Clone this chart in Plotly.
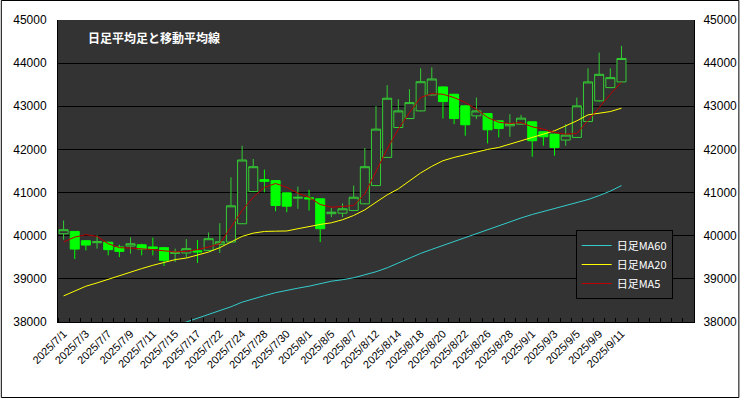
import plotly.graph_objects as go

dates = ["2025/7/1", "2025/7/2", "2025/7/3", "2025/7/4", "2025/7/7", "2025/7/8", "2025/7/9",
         "2025/7/10", "2025/7/11", "2025/7/14", "2025/7/15", "2025/7/16", "2025/7/17", "2025/7/18",
         "2025/7/22", "2025/7/23", "2025/7/24", "2025/7/25", "2025/7/28", "2025/7/29", "2025/7/30",
         "2025/7/31", "2025/8/1", "2025/8/4", "2025/8/5", "2025/8/6", "2025/8/7", "2025/8/8",
         "2025/8/12", "2025/8/13", "2025/8/14", "2025/8/15", "2025/8/18", "2025/8/19", "2025/8/20",
         "2025/8/21", "2025/8/22", "2025/8/25", "2025/8/26", "2025/8/27", "2025/8/28", "2025/8/29",
         "2025/9/1", "2025/9/2", "2025/9/3", "2025/9/4", "2025/9/5", "2025/9/8", "2025/9/9",
         "2025/9/10", "2025/9/11"]

ha_open = [40046, 40099, 39885, 39838, 39849, 39740, 39760, 39790, 39740, 39723,
           39590, 39600, 39650, 39660, 39800, 39853, 40277, 41023, 41300, 41277,
           40993, 40870, 40880, 40855, 40510, 40522, 40585, 40739, 41162, 41815,
           42508, 42716, 42893, 43263, 43449, 43279, 43010, 42778, 42831, 42663,
           42547, 42586, 42640, 42409, 42355, 42217, 42278, 42648, 43125, 43433,
           43565]
ha_high = [40353, 40110, 39890, 40014, 39860, 39792, 39960, 39815, 39954, 39740,
           39700, 39922, 39900, 40075, 40291, 41353, 42085, 41778, 41531, 41290,
           41000, 41139, 41062, 40860, 40647, 40750, 41162, 42032, 43008, 43490,
           43164, 43395, 43880, 43903, 43460, 43290, 43020, 43202, 42840, 42670,
           42817, 42800, 42650, 42420, 42360, 42586, 43202, 43880, 44245, 43880,
           44400]
ha_low = [39908, 39460, 39660, 39700, 39545, 39505, 39584, 39545, 39545, 39298,
          39390, 39492, 39370, 39640, 39600, 39840, 40270, 41010, 41007, 40568,
          40545, 40624, 40584, 39852, 40430, 40430, 40570, 40730, 41150, 41800,
          42500, 42700, 42880, 43250, 42716, 42586, 42317, 42702, 42139, 42278,
          42293, 42580, 41831, 42085, 41854, 42085, 42270, 42640, 43110, 43420,
          43550]
ha_close = [40139, 39690, 39783, 39860, 39677, 39637, 39815, 39690, 39705, 39430,
            39615, 39700, 39625, 39931, 39860, 40693, 41755, 41600, 41260, 40700,
            40684, 40890, 40855, 40162, 40545, 40624, 40892, 41600, 42471, 43187,
            42893, 43085, 43570, 43633, 43109, 42716, 42571, 42893, 42455, 42485,
            42601, 42725, 42201, 42293, 42047, 42332, 43010, 43565, 43741, 43664,
            44108]

ma5 = [39852, 39968, 40023, 39985, 39815, 39723, 39714, 39700, 39677, 39650,
       39622, 39640, 39677, 39737, 39815, 40199, 40584, 40892, 41122, 41210,
       41122, 40984, 40892, 40723, 40661, 40677, 40700, 40970, 41508, 42010,
       42471, 42856, 43202, 43295, 43279, 43202, 43087, 42933, 42740, 42630,
       42601, 42624, 42524, 42471, 42393, 42355, 42370, 42663, 42971, 43279,
       43557]
ma20 = [38605, 38721, 38829, 38906, 38991, 39076, 39169, 39238, 39314, 39380,
        39446, 39483, 39545, 39622, 39723, 39852, 39984, 40060, 40099, 40105,
        40110, 40162, 40215, 40261, 40300, 40370, 40469, 40600, 40776, 40947,
        41085, 41277, 41455, 41608, 41738, 41815, 41877, 41946, 42000, 42046,
        42124, 42201, 42293, 42355, 42432, 42547, 42663, 42801, 42840, 42878,
        42956]
ma60 = [37100, 37190, 37280, 37370, 37460, 37550, 37640, 37730, 37820, 37860,
        37915, 38000, 38088, 38180, 38261, 38353, 38460, 38540, 38610, 38680,
        38737, 38784, 38830, 38887, 38945, 38980, 39025, 39095, 39165, 39256,
        39372, 39476, 39590, 39683, 39776, 39868, 39961, 40053, 40145, 40226,
        40330, 40411, 40492, 40561, 40630, 40688, 40757, 40838, 40930, 41034,
        41162]

y_ticks = [38000, 39000, 40000, 41000, 42000, 43000, 44000, 45000]
y_tick_text = ["38000", "39000", "40000", "41000", "42000", "43000", "44000", "45000"]
title_text = "日足平均足と移動平均線"
n_slots = 57

idx = list(range(len(dates)))
tick_idx = idx[::2]
tick_txt = dates[::2]

W, H = 749, 398
ML, MR, MT, MB = 58, 46, 20, 76
pw, ph = W - ML - MR, H - MT - MB

fig = go.Figure()
fig.add_trace(go.Candlestick(
    x=idx, open=ha_open, high=ha_high, low=ha_low, close=ha_close,
    increasing=dict(line=dict(color="#33cc33", width=1), fillcolor="#333333"),
    decreasing=dict(line=dict(color="#00ff00", width=1), fillcolor="#00ff00"),
    whiskerwidth=0, showlegend=False, hoverinfo="skip"))
fig.add_trace(go.Scatter(x=idx, y=ma60, mode="lines", name="日足MA60",
                         line=dict(color="#33cccc", width=1), yaxis="y2"))
fig.add_trace(go.Scatter(x=idx, y=ma20, mode="lines", name="日足MA20",
                         line=dict(color="#ffff00", width=1)))
fig.add_trace(go.Scatter(x=idx, y=ma5, mode="lines", name="日足MA5",
                         line=dict(color="#c00000", width=1)))

axfont = dict(family="Liberation Sans, Arial, sans-serif", size=12, color="#000000")
fig.update_layout(
    width=W, height=H,
    margin=dict(l=ML, r=MR, t=MT, b=MB, pad=0),
    paper_bgcolor="#ffffff", plot_bgcolor="#333333",
    hovermode=False,
    boxgap=0.12, boxgroupgap=0.08,
    xaxis=dict(range=[-0.5, n_slots - 0.5], tickmode="array", tickvals=tick_idx,
               ticktext=tick_txt, tickangle=-45, ticks="",
               tickfont=dict(family="Liberation Sans, Arial, sans-serif", size=11, color="#000000"),
               showgrid=False, zeroline=False, showline=True, linecolor="#000000",
               linewidth=1, mirror=False, rangeslider=dict(visible=False),
               minor=dict(ticks="inside", ticklen=4, tickcolor="#000000",
                          tick0=-0.5, dtick=1, showgrid=False)),
    yaxis=dict(range=[38000, 45000], tickmode="array", tickvals=y_ticks,
               ticktext=y_tick_text,
               tickfont=axfont, showgrid=True, gridcolor="#000000", gridwidth=1,
               zeroline=False, showline=True, linecolor="#000000", linewidth=1,
               ticks="", ticklabelstandoff=8),
    yaxis2=dict(range=[38000, 45000], overlaying="y", side="right", tickmode="array",
                tickvals=y_ticks, ticktext=y_tick_text, tickfont=axfont, showgrid=False,
                zeroline=False, showline=True, linecolor="#000000", linewidth=1, ticks="",
                ticklabelstandoff=6),
    legend=dict(x=(583 - ML) / pw, y=1 - (230 - MT) / ph, xanchor="left", yanchor="top",
                bgcolor="#333333", bordercolor="#000000", borderwidth=1,
                font=dict(family="Noto Sans CJK JP, sans-serif", size=11, color="#ffffff"),
                itemwidth=30, tracegroupgap=0),
    showlegend=True,
)
fig.add_annotation(text="<b>" + title_text + "</b>", xref="paper", yref="paper",
                   x=(86 - ML) / pw, y=1 - (38 - MT) / ph, xanchor="left", yanchor="middle",
                   showarrow=False,
                   font=dict(family="Noto Sans CJK JP, sans-serif", size=12, color="#ffffff"))
fig.add_shape(type="rect", xref="paper", yref="paper",
              x0=-(ML - 0.5) / pw, x1=1 + (MR - 0.5) / pw,
              y0=-(MB - 0.5) / ph, y1=1 + (MT - 0.5) / ph,
              line=dict(color="#000000", width=1), fillcolor="rgba(0,0,0,0)", layer="above")

fig.write_html("out.html")
